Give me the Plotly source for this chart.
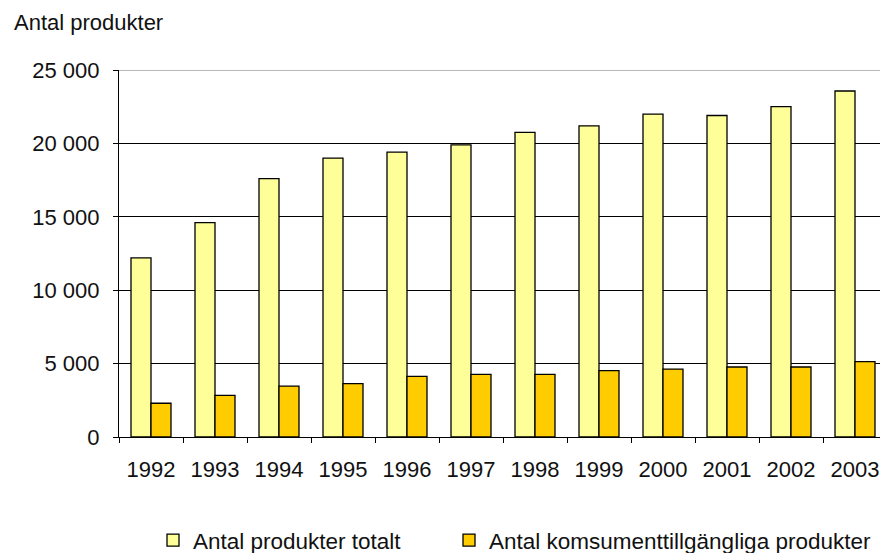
import plotly.graph_objects as go

years = ["1992", "1993", "1994", "1995", "1996", "1997", "1998", "1999", "2000", "2001", "2002", "2003"]
totalt = [12200, 14600, 17600, 19000, 19400, 19900, 20750, 21200, 22000, 21900, 22500, 23570]
konsument = [2300, 2840, 3470, 3630, 4130, 4270, 4270, 4520, 4630, 4770, 4770, 5130]
series_names = ["Antal produkter totalt", "Antal komsumenttillgängliga produkter"]
y_title = "Antal produkter"

W, H = 880, 553
L, T, B = 119, 70, 116
cat_px = 64.0
plot_w = W - L
plot_h = H - T - B
x_end = -0.5 + plot_w / cat_px

FONT = "Liberation Sans, Arial, sans-serif"
FS = 22
LFS = 22.5

fig = go.Figure()
fig.add_trace(go.Bar(x=years, y=totalt, name=series_names[0], legend="legend",
                     marker=dict(color="#FFFF99", line=dict(color="#000000", width=1.3))))
fig.add_trace(go.Bar(x=years, y=konsument, name=series_names[1], legend="legend2",
                     marker=dict(color="#FFCC00", line=dict(color="#000000", width=1.3))))

leg_y = -(H + 9 - (T + plot_h)) / plot_h
common_leg = dict(orientation="h", xanchor="left", y=leg_y, yanchor="bottom",
                  font=dict(size=LFS), itemclick=False, itemdoubleclick=False,
                  bgcolor="rgba(0,0,0,0)")

fig.update_layout(
    width=W, height=H,
    margin=dict(l=L, r=0, t=T, b=B, autoexpand=False),
    paper_bgcolor="white", plot_bgcolor="white",
    barmode="group", bargap=0.375, bargroupgap=0,
    separators=", ",
    font=dict(family=FONT, size=FS, color="#111111"),
    showlegend=True,
    legend=dict(x=(153 - L) / plot_w, **common_leg),
    legend2=dict(x=(449 - L) / plot_w, **common_leg),
    xaxis=dict(type="category", range=[-0.5, x_end], showline=True, linecolor="#000000",
               linewidth=1.3, ticks="outside", ticklen=5, tickwidth=1.3, tickcolor="#000000",
               tickson="boundaries", showgrid=False, ticklabelstandoff=12,
               tickfont=dict(size=FS), automargin=False),
    yaxis=dict(range=[0, 25000], dtick=5000, tickformat=",d", showline=True,
               linecolor="#000000", linewidth=1.3, ticks="outside", ticklen=5,
               tickwidth=1.3, tickcolor="#000000", showgrid=True, gridcolor="#000000",
               gridwidth=1.3, zeroline=False, ticklabelstandoff=9,
               tickfont=dict(size=FS), automargin=False),
    annotations=[dict(text=y_title, xref="paper", yref="paper",
                      x=(12 - L) / plot_w, y=1 + (T - 22) / plot_h,
                      xanchor="left", yanchor="middle", showarrow=False,
                      font=dict(size=FS))],
    shapes=[dict(type="line", xref="paper", yref="y", x0=0, x1=1, y0=25000, y1=25000,
                 line=dict(color="#A0A0A0", width=1.6), layer="above")],
)

fig.write_html("out.html", config={"displayModeBar": False},
               post_script="document.body.style.margin='0';document.body.style.overflow='hidden';")
